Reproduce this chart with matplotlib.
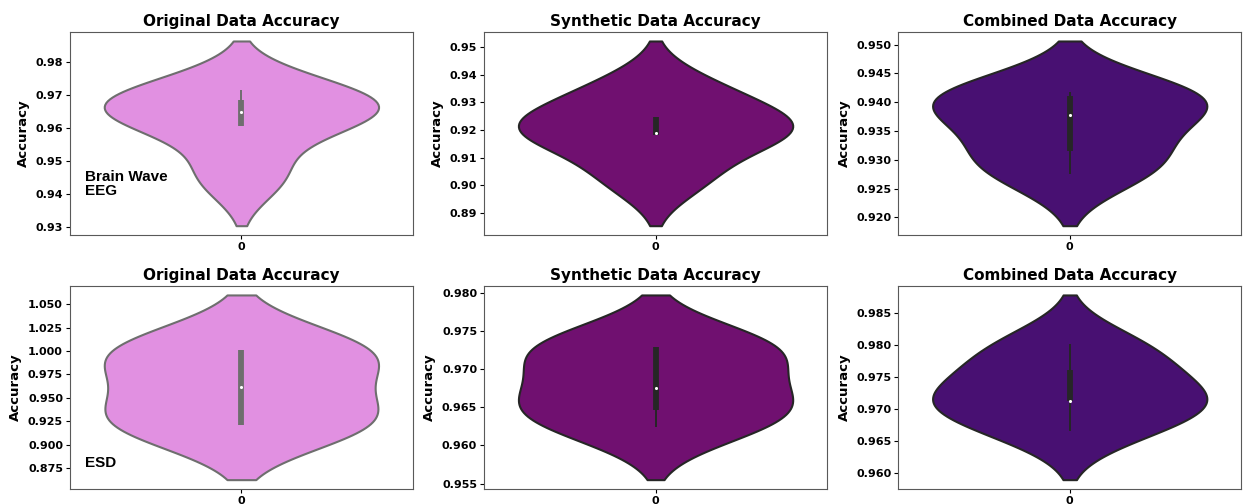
import numpy as np
import pandas as pd
import seaborn as sns
import matplotlib
matplotlib.use('Agg')
import matplotlib.pyplot as plt

# per-fold accuracies (5 values each)
eeg_original = [0.9452, 0.9606, 0.9647, 0.9684, 0.9714]
eeg_synthetic = [0.9025, 0.9182, 0.9190, 0.9249, 0.9351]
eeg_combined = [0.9275, 0.9316, 0.9377, 0.9410, 0.9417]
esd_original = [0.9210, 0.9210, 0.9616, 1.0016, 1.0016]
esd_synthetic = [0.9624, 0.9647, 0.9676, 0.9729, 0.9729]
esd_combined = [0.9666, 0.9712, 0.9712, 0.9761, 0.9802]

titles = ['Original Data Accuracy', 'Synthetic Data Accuracy', 'Combined Data Accuracy']
colors = ['violet', 'purple', 'indigo']
line_colors = ['#6e6e6e', '#262626', '#262626']
datasets = ['Brain Wave\nEEG', 'ESD']
rows = [[eeg_original, eeg_synthetic, eeg_combined],
        [esd_original, esd_synthetic, esd_combined]]

plt.rcParams['font.weight'] = 'bold'
plt.rcParams['axes.titleweight'] = 'bold'
plt.rcParams['axes.labelweight'] = 'bold'
plt.rcParams['axes.edgecolor'] = '0.35'

fig, axes = plt.subplots(2, 3, figsize=(12.43, 5.04), dpi=100)
fig.subplots_adjust(left=0.0563, right=0.9985, top=0.937, bottom=0.03,
                    wspace=0.208, hspace=0.25)

for r in range(2):
    for c in range(3):
        ax = axes[r, c]
        vals = np.array(rows[r][c])
        df = pd.DataFrame({'0': vals})
        sns.violinplot(data=df, color=colors[c], inner=None, ax=ax)
        for coll in ax.collections:
            coll.set_edgecolor(line_colors[c])
            coll.set_linewidth(1.5)

        # inner box: IQR bar, 1.5*IQR whiskers, white median dot
        q1, med, q3 = np.percentile(vals, [25, 50, 75])
        iqr = q3 - q1
        lo = vals[vals >= q1 - 1.5 * iqr].min()
        hi = vals[vals <= q3 + 1.5 * iqr].max()
        ax.vlines(0, lo, hi, color=line_colors[c], lw=1.4, zorder=3)
        ax.vlines(0, q1, q3, color=line_colors[c], lw=4.2, zorder=3)
        ax.scatter([0], [med], s=5, color='white', zorder=4, linewidths=0)
        ax.set_xlim(-0.5, 0.5)

        ax.set_title(titles[c], fontsize=11, fontweight='bold', pad=4)
        ax.set_ylabel('Accuracy', fontsize=9.5, fontweight='bold')
        ax.tick_params(axis='both', labelsize=8, length=3, pad=2)
    axes[r, 0].text(0.044, 0.32 if r == 0 else 0.16, datasets[r],
                    transform=axes[r, 0].transAxes, va='top', ha='left',
                    fontsize=11, fontweight='bold', family='Liberation Sans',
                    linespacing=1.0)

fig.savefig('out.png', dpi=100)
